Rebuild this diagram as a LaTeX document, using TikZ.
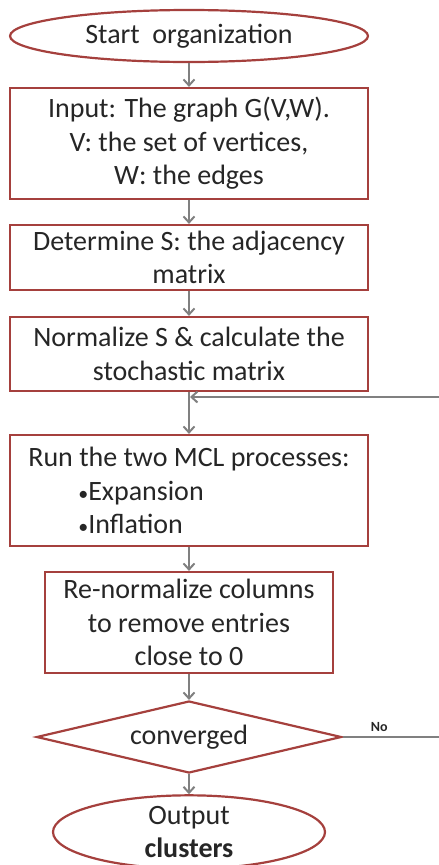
\documentclass[tikz,border=0pt]{standalone}
\usepackage{fontspec}
\setmainfont{Carlito}
\usetikzlibrary{shapes.geometric,arrows.meta}
\definecolor{boxred}{HTML}{A5403D}
\definecolor{arrgray}{HTML}{808080}
\newcommand{\smbul}{{\fontsize{20}{33}\selectfont•}}
\tikzset{
  base/.style={draw=boxred, line width=2.2pt, fill=white, inner sep=0pt, align=center,
    font=\fontsize{28}{33.5}\selectfont, text=black!85},
  procbox/.style={base, rectangle},
  termbox/.style={base, ellipse},
  decbox/.style={base, diamond, shape aspect=4.236},
  flow/.style={draw=arrgray, line width=2pt, -{Straight Barb[length=6pt,width=11pt,line width=2pt]}},
  plainline/.style={draw=arrgray, line width=2pt},
}
\begin{document}
\begin{tikzpicture}[x=1pt,y=-1pt]
\useasboundingbox (0,0) rectangle (439,865);
\node[termbox, minimum width=358pt, minimum height=52pt] (start) at (189,36) {Start\ \ organization};
\node[procbox, minimum width=358pt, minimum height=111pt] (input) at (189,143.5) {Input: The graph G(V,W).\\V: the set of vertices,\\W: the edges};
\node[procbox, minimum width=358pt, minimum height=65pt] (det) at (189,257.5) {Determine S: the adjacency\\matrix};
\node[procbox, minimum width=358pt, minimum height=74pt] (norm) at (189,354) {Normalize S \& calculate the\\stochastic matrix};
\node[procbox, minimum width=358pt, minimum height=111pt, align=left] (run) at (189,490.5) {Run the two MCL processes:\\\hspace*{50pt}\smbul Expansion\\\hspace*{50pt}\smbul Inflation};
\node[procbox, minimum width=288pt, minimum height=101pt] (renorm) at (189,622.5) {Re-normalize columns\\to remove entries\\close to 0};
\node[decbox, minimum width=305pt, minimum height=72pt] (conv) at (189,737) {converged};
\node[termbox, minimum width=272pt, minimum height=64pt] (out) at (189,832) {Output\\\textbf{clusters}};

\coordinate (fbR) at (439,397);
\coordinate (fbJ) at (190,397);
\coordinate (noR) at (439,737);

\draw[flow] (start) -- (input);
\draw[flow] (input) -- (det);
\draw[flow] (det) -- (norm);
\draw[flow] (norm) -- (run);
\draw[flow] (run) -- (renorm);
\draw[flow] (renorm) -- (conv);
\draw[flow] (conv) -- (out);
\draw[flow] (fbR) -- (fbJ);
\draw[plainline] (conv.east) -- (noR) node[pos=0.38, above=1pt, font=\fontsize{14}{16}\selectfont\bfseries, text=black!85] (nolab) {No};
\end{tikzpicture}
\end{document}
